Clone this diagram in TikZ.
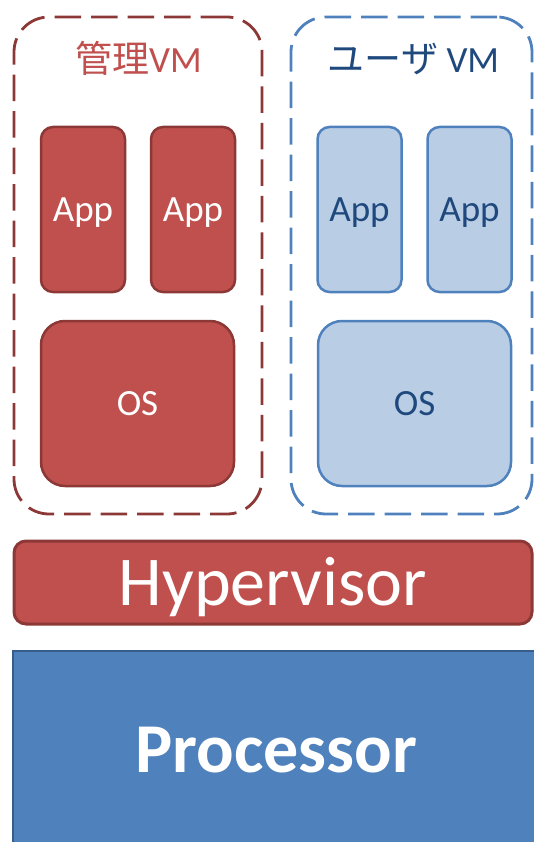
\documentclass[tikz,border=0pt]{standalone}
\usepackage{fontspec}
\setmainfont{Carlito}
\newfontfamily\jp{Noto Sans CJK JP}
\definecolor{redfill}{HTML}{C0504D}
\definecolor{redline}{HTML}{8C3836}
\definecolor{bluefill}{HTML}{4F81BD}
\definecolor{blueline}{HTML}{385D8A}
\definecolor{palefill}{HTML}{B9CDE5}
\definecolor{paleline}{HTML}{4F81BD}
\definecolor{darkblue}{HTML}{1F497D}
\begin{document}
\begin{tikzpicture}[x=1pt,y=-1pt,
  vmbox/.style={draw, dash pattern=on 26.5pt off 10pt, line width=2.8pt,
    rounded corners=35pt, minimum width=#1, minimum height=497pt, inner sep=0pt},
  redbox/.style={draw=redline, fill=redfill, line width=2.5pt, text=white, inner sep=0pt},
  palebox/.style={draw=paleline, fill=palefill, line width=2.5pt, text=darkblue, inner sep=0pt},
  appbox/.style={minimum width=84pt, minimum height=165pt, rounded corners=12pt,
    font=\fontsize{37}{44}\selectfont, text height=23.8pt, text depth=0pt},
  osbox/.style={minimum width=193pt, minimum height=165pt, rounded corners=24pt,
    font=\fontsize{37}{44}\selectfont, text height=23.8pt, text depth=0pt},
  vmtitle/.style={anchor=base, inner sep=0pt, font=\fontsize{37}{44}\selectfont}
]
\useasboundingbox (0,0) rectangle (534,842);
\clip (0,0) rectangle (534,842);

% virtual machine frames
\node[vmbox=248pt, draw=redline] (mgmtvm) at (138,265.5) {};
\node[vmbox=241pt, draw=paleline] (uservm) at (411.5,265.5) {};

% frame titles
\node[vmtitle, text=redfill] (mgmttitle) at (138.5,73) {{\jp 管理}VM};
\node[vmtitle, text=darkblue] (usertitle) at (413.5,73) {{\jp ユーザ} VM};

% management VM contents
\node[redbox, appbox] (mapp1) at (83,209.5) {App};
\node[redbox, appbox] (mapp2) at (193,209.5) {App};
\node[redbox, osbox] (mos) at (137.5,403.5) {OS};

% user VM contents
\node[palebox, appbox] (uapp1) at (359.5,209.5) {App};
\node[palebox, appbox] (uapp2) at (469.5,209.5) {App};
\node[palebox, osbox] (uos) at (414.5,403.5) {OS};

% hypervisor layer
\node[redbox, minimum width=518pt, minimum height=83pt, rounded corners=12pt,
  line width=3pt, font=\fontsize{70}{84}\selectfont, text height=45pt, text depth=0pt]
  (hyp) at (273,582.5) {Hypervisor};

% processor layer
\node[draw=blueline, fill=bluefill, line width=2pt, text=white, inner sep=0pt,
  minimum width=527pt, minimum height=197pt,
  font=\fontsize{70}{84}\selectfont\bfseries, text height=45pt, text depth=0pt]
  (cpu) at (276.5,749.5) {Processor};
\end{tikzpicture}
\end{document}
